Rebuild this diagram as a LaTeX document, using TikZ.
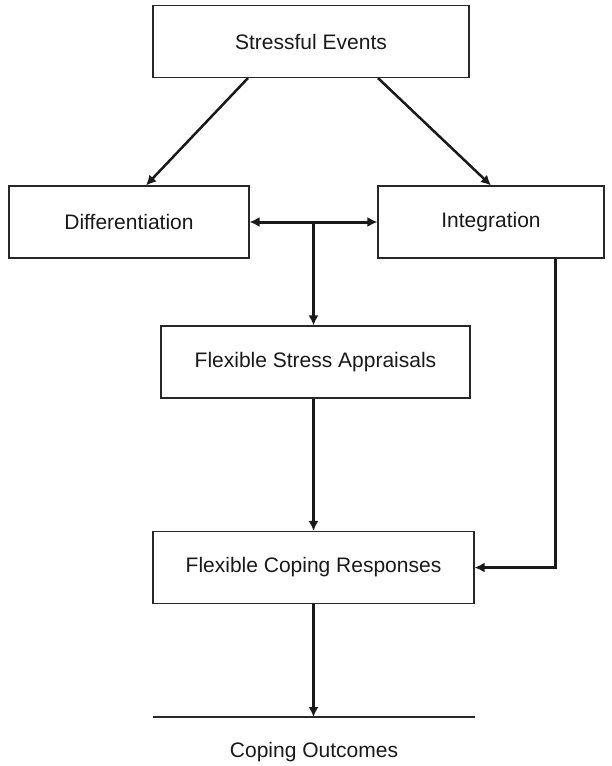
\documentclass[tikz,border=0pt]{standalone}
\usepackage{fontspec}
\setmainfont{Liberation Sans}
\usetikzlibrary{arrows.meta,calc,positioning}
\definecolor{frame}{RGB}{40,40,40}
\definecolor{ink}{RGB}{25,25,25}
\tikzset{
  label font/.style={
    font=\fontsize{21}{25}\selectfont,
    text=ink
  },
  stage/.style={
    draw=frame,
    line width=1.1pt,
    label font,
    align=center,
    minimum height=72pt,
    inner sep=0pt
  },
  flow/.style={
    -{Latex[length=10pt,width=10pt]},
    line width=3pt,
    draw=ink
  },
  both flow/.style={
    flow,
    {Latex[length=10pt,width=10pt]}-{Latex[length=10pt,width=10pt]}
  },
  rule/.style={
    draw=frame,
    line width=1.1pt
  }
}
\begin{document}
\begin{tikzpicture}[x=1pt,y=-1pt]
  \useasboundingbox (0,0) rectangle (611,766);
  \node[stage,minimum width=316pt] (events)  at (311,41.5) {Stressful Events};
  \node[stage,minimum width=240pt] (diff)    at (129,222)  {Differentiation};
  \node[stage,minimum width=226pt] (integ)   at (491,222)  {Integration};
  \node[stage,minimum width=309pt] (apprais) at (315.5,362) {Flexible Stress Appraisals};
  \node[stage,minimum width=321pt] (coping)  at (313.5,567.5) {Flexible Coping Responses};
  \node[label font] (outcome) at (314,752) {Coping Outcomes};

  \coordinate (outL) at (153,717);
  \coordinate (outR) at (475,717);
  \coordinate (split) at ($(diff.east)!0.5!(integ.west)$);

  \draw[flow,line width=2.5pt] ($(events.south)+(-63,0)$) -- ($(diff.north)+(17,0)$);
  \draw[flow,line width=2.5pt] ($(events.south)+(67,0)$) -- ($(integ.north)+(0,0)$);

  \draw[both flow] (diff.east) -- (integ.west);
  \draw[flow] (split) -- (split |- apprais.north);
  \draw[flow] (split |- apprais.south) -- (split |- coping.north);
  \draw[flow] ($(integ.south)+(64,0)$) |- (coping.east);

  \draw[rule] (outL) -- (outR);
  \draw[flow] (split |- coping.south) -- (split |- outL);
\end{tikzpicture}
\end{document}
